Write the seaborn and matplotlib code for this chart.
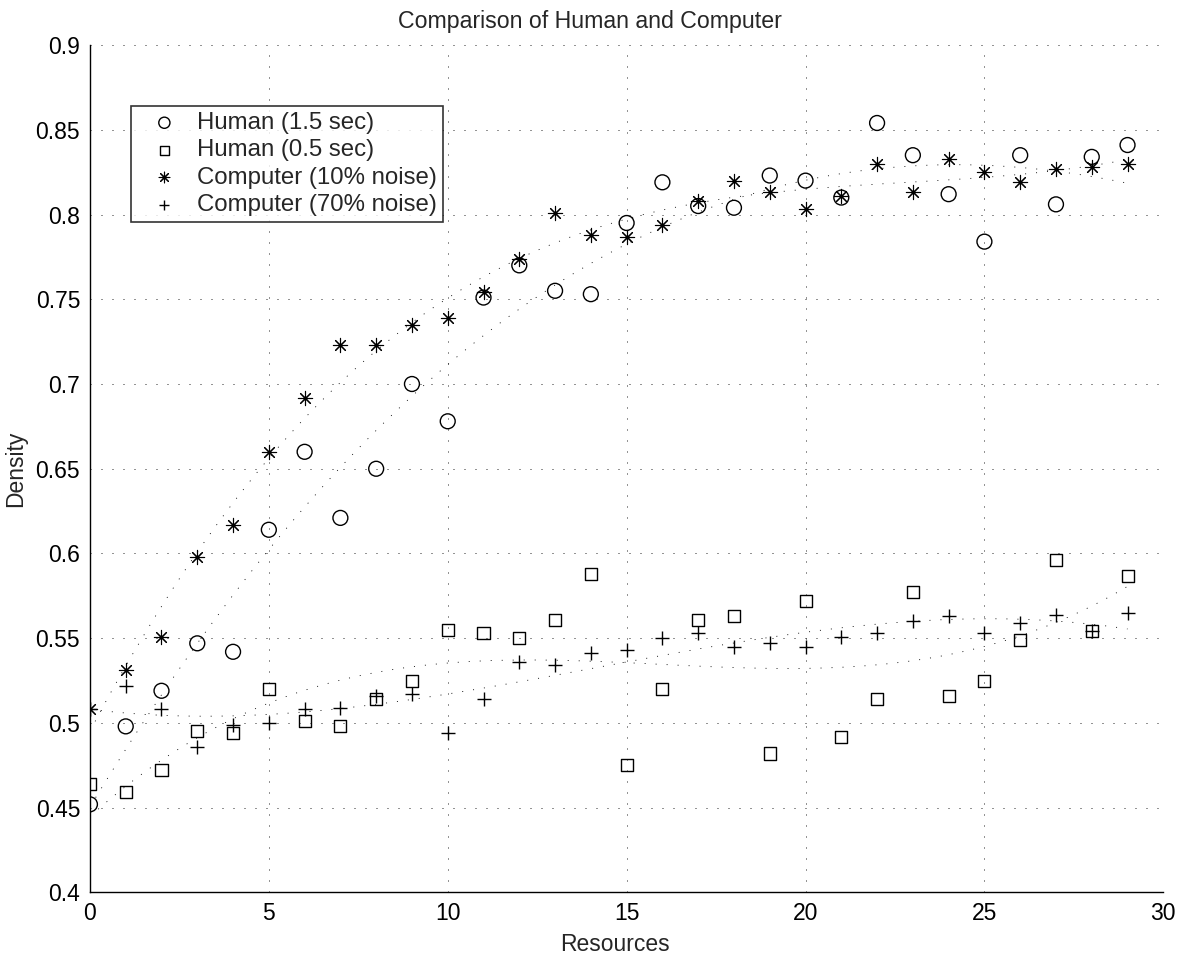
import matplotlib
matplotlib.use("Agg")
import matplotlib.pyplot as plt
from matplotlib.ticker import FormatStrFormatter
import seaborn as sns
import numpy as np
import pandas as pd

# values
resources = list(range(30))

human_15 = [0.452, 0.498, 0.519, 0.547, 0.542, 0.614, 0.660, 0.621, 0.650, 0.700,
            0.678, 0.751, 0.770, 0.755, 0.753, 0.795, 0.819, 0.805, 0.804, 0.823,
            0.820, 0.810, 0.854, 0.835, 0.812, 0.784, 0.835, 0.806, 0.834, 0.841]

human_05 = [0.464, 0.459, 0.472, 0.495, 0.494, 0.520, 0.501, 0.498, 0.514, 0.525,
            0.555, 0.553, 0.550, 0.561, 0.588, 0.475, 0.520, 0.561, 0.563, 0.482,
            0.572, 0.492, 0.514, 0.577, 0.516, 0.525, 0.549, 0.596, 0.554, 0.587]

computer_10 = [0.508, 0.531, 0.551, 0.598, 0.617, 0.660, 0.692, 0.723, 0.723, 0.735,
               0.739, 0.754, 0.774, 0.801, 0.788, 0.787, 0.794, 0.808, 0.820, 0.813,
               0.803, 0.811, 0.830, 0.813, 0.833, 0.825, 0.819, 0.827, 0.828, 0.830]

computer_70 = [0.508, 0.522, 0.508, 0.486, 0.499, 0.500, 0.508, 0.509, 0.516, 0.517,
               0.494, 0.514, 0.536, 0.534, 0.541, 0.543, 0.550, 0.553, 0.545, 0.547,
               0.545, 0.551, 0.553, 0.560, 0.563, 0.553, 0.559, 0.564, 0.554, 0.565]

labels = ["Human (1.5 sec)", "Human (0.5 sec)", "Computer (10% noise)", "Computer (70% noise)"]
series = [human_15, human_05, computer_10, computer_70]

sns.set_style("white")
plt.rcParams["font.family"] = ["Liberation Sans", "DejaVu Sans"]

fig = plt.figure(figsize=(11.85, 9.58), dpi=100)
ax = fig.add_axes([0.0759, 0.0684, 0.9058, 0.8846])

# MATLAB style asterisk: 8 spokes
asterisk = (8, 2, 0)
styles = [
    dict(marker="o", s=115, facecolors="none", edgecolors="black", linewidths=1.0),
    dict(marker="s", s=75, facecolors="none", edgecolors="black", linewidths=1.0),
    dict(marker=asterisk, s=105, color="black", linewidths=0.8),
    dict(marker="+", s=100, color="black", linewidths=1.0),
]

handles = []
for vals, lab, st in zip(series, labels, styles):
    df = pd.DataFrame({"Resources": resources, "Density": vals})
    # cubic fit drawn as a dotted line
    sns.regplot(data=df, x="Resources", y="Density", order=3, ci=None,
                scatter=False, ax=ax,
                line_kws=dict(color="black", lw=0.6, ls=(0, (1.2, 12))))
    sns.scatterplot(data=df, x="Resources", y="Density", ax=ax, label=lab,
                    legend=False, zorder=3, **st)
    handles.append(ax.collections[-1])

ax.set_xlim(0, 30)
ax.set_ylim(0.4, 0.9)
ax.set_xticks(np.arange(0, 31, 5))
ax.set_yticks(np.arange(0.4, 0.901, 0.05))
ax.yaxis.set_major_formatter(FormatStrFormatter("%g"))

ax.grid(True, color="black", lw=0.6, ls=(0, (1.2, 12)))
ax.set_axisbelow(True)
for side in ["top", "right"]:
    ax.spines[side].set_visible(False)
for side in ["left", "bottom"]:
    ax.spines[side].set_color("black")
    ax.spines[side].set_linewidth(1.0)

ax.tick_params(direction="in", length=7, width=1.0, colors="black",
               labelsize=16.5, pad=7)
ax.set_xlabel("Resources", fontsize=16.5)
ax.xaxis.set_label_coords(0.489, -0.048)
ax.set_ylabel("Density", fontsize=16.5, labelpad=6)
ax.set_title("Comparison of Human and Computer", fontsize=16.7, pad=12, x=0.466)

leg = ax.legend(handles, labels, loc="upper left", bbox_to_anchor=(0.038, 0.928),
                fontsize=17.3, frameon=True, fancybox=False, markerscale=0.75,
                handletextpad=0.2, labelspacing=0.22, borderpad=0.25,
                handlelength=2.3, borderaxespad=0)
leg.get_frame().set_edgecolor("black")
leg.get_frame().set_linewidth(1.2)

fig.savefig("out.png", dpi=100)
